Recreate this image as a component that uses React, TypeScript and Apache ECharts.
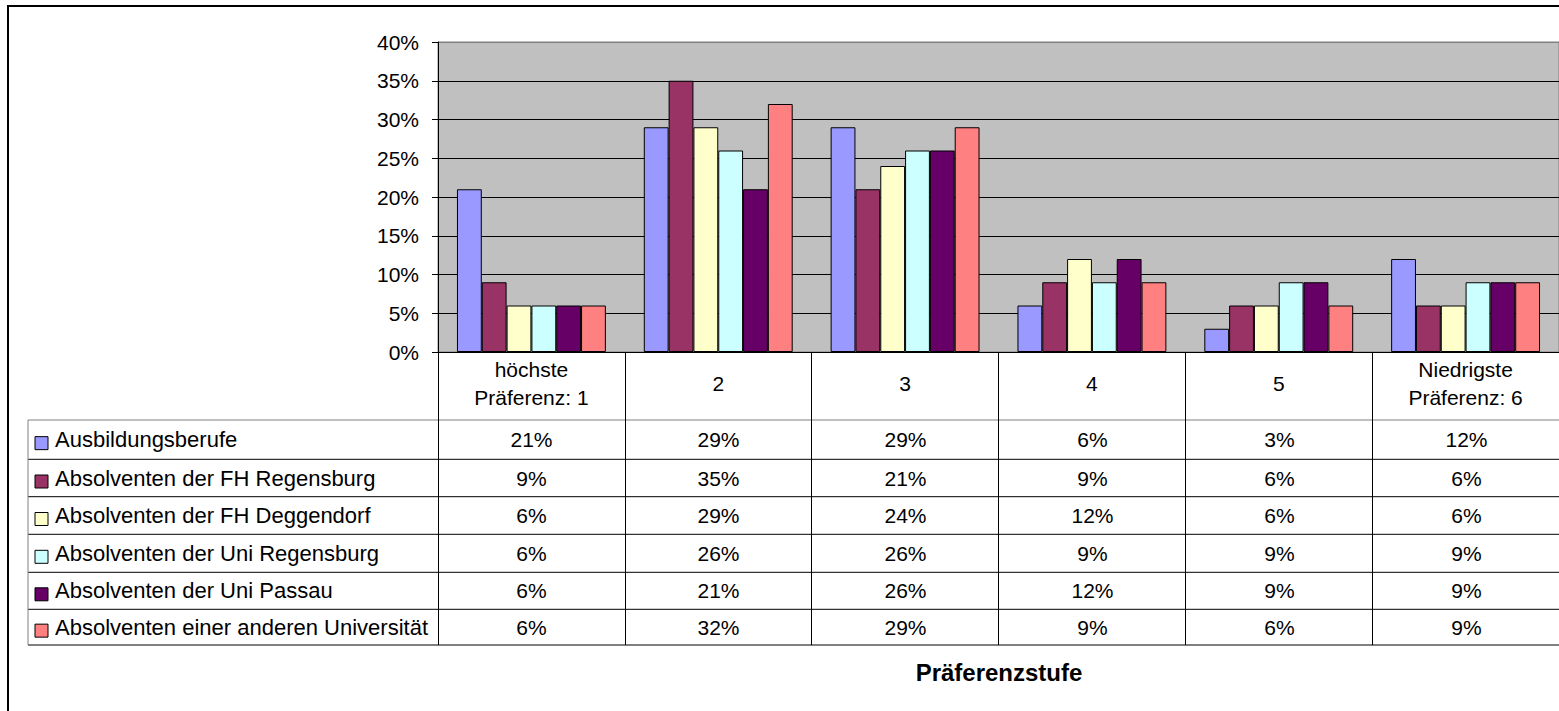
import React, { useEffect, useRef } from "react";
import * as echarts from "echarts";

// ---- data ----
const categories = ["höchste\nPräferenz: 1", "2", "3", "4", "5", "Niedrigste\nPräferenz: 6"];
const seriesNames = [
  "Ausbildungsberufe",
  "Absolventen der FH Regensburg",
  "Absolventen der FH Deggendorf",
  "Absolventen der Uni Regensburg",
  "Absolventen der Uni Passau",
  "Absolventen einer anderen Universität",
];
const seriesColors = ["#9999FF", "#993366", "#FFFFCC", "#CCFFFF", "#660066", "#FF8080"];
const ausbildungsberufe = [21, 29, 29, 6, 3, 12];
const fhRegensburg = [9, 35, 21, 9, 6, 6];
const fhDeggendorf = [6, 29, 24, 12, 6, 6];
const uniRegensburg = [6, 26, 26, 9, 9, 9];
const uniPassau = [6, 21, 26, 12, 9, 9];
const andereUni = [6, 32, 29, 9, 6, 9];
const seriesValues = [ausbildungsberufe, fhRegensburg, fhDeggendorf, uniRegensburg, uniPassau, andereUni];
const yMax = 40;
const yInterval = 5;
const axisTitle = "Präferenzstufe";

// ---- layout ----
const FONT = '"Liberation Sans", Arial, Helvetica, sans-serif';
const GRID_LEFT = 438;
const GRID_TOP = 42;
const GRID_W = 1122;
const GRID_H = 310;
const TABLE_LEFT = 28;
const ROW_LINES = [420, 459.3, 496.7, 534.3, 572.3, 609.3, 645];
const FS = 21;
const NAME_FS = 22;

export default function App() {
  const ref = useRef<HTMLDivElement>(null);

  useEffect(() => {
    if (!ref.current) return;
    const chart = echarts.init(ref.current, undefined, { renderer: "svg" });
    const catW = GRID_W / categories.length;
    const tableRight = GRID_LEFT + GRID_W;

    const graphics: any[] = [];
    // outer chart border
    graphics.push({
      type: "rect",
      shape: { x: 8, y: 6, width: 1700, height: 900 },
      style: { fill: "none", stroke: "#000", lineWidth: 2 },
      silent: true,
    });
    // table horizontal lines
    ROW_LINES.forEach((y, i) => {
      graphics.push({
        type: "line",
        shape: { x1: TABLE_LEFT, y1: y, x2: tableRight, y2: y },
        style: { stroke: i === 0 ? "#808080" : "#000", lineWidth: 1 },
        silent: true,
      });
    });
    graphics.push({
      type: "line",
      shape: { x1: TABLE_LEFT, y1: ROW_LINES[0], x2: TABLE_LEFT, y2: ROW_LINES[ROW_LINES.length - 1] },
      style: { stroke: "#808080", lineWidth: 1 },
      silent: true,
    });
    // legend keys, names and values
    seriesNames.forEach((name, i) => {
      const cy = (ROW_LINES[i] + ROW_LINES[i + 1]) / 2;
      graphics.push({
        type: "rect",
        shape: { x: 35, y: cy - 3, width: 13, height: 13 },
        style: { fill: seriesColors[i], stroke: "#000", lineWidth: 1 },
        silent: true,
      });
      graphics.push({
        type: "text",
        x: 55,
        y: cy,
        style: { text: name, font: `${NAME_FS}px ${FONT}`, fill: "#000", verticalAlign: "middle", align: "left" },
        silent: true,
      });
      seriesValues[i].forEach((v, j) => {
        graphics.push({
          type: "text",
          x: GRID_LEFT + (j + 0.5) * catW,
          y: cy,
          style: { text: `${v}%`, font: `${FS}px ${FONT}`, fill: "#000", verticalAlign: "middle", align: "center" },
          silent: true,
        });
      });
    });
    // axis title
    graphics.push({
      type: "text",
      x: GRID_LEFT + GRID_W / 2,
      y: 672,
      style: { text: axisTitle, font: `bold 24px ${FONT}`, fill: "#000", verticalAlign: "middle", align: "center" },
      silent: true,
    });

    const nLines = yMax / yInterval + 1;
    const splitColors = Array.from({ length: nLines }, (_, k) => (k === nLines - 1 ? "#808080" : "#000"));

    chart.setOption({
      animation: false,
      textStyle: { fontFamily: FONT },
      grid: {
        left: GRID_LEFT,
        top: GRID_TOP,
        width: GRID_W,
        height: GRID_H,
        show: true,
        backgroundColor: "#C0C0C0",
        borderColor: "#808080",
        borderWidth: 1,
      },
      xAxis: {
        type: "category",
        data: categories,
        boundaryGap: true,
        axisLine: { show: true, lineStyle: { color: "#000", width: 1 } },
        axisTick: { show: true, interval: 0, length: ROW_LINES[ROW_LINES.length - 1] - (GRID_TOP + GRID_H), lineStyle: { color: "#000", width: 1 } },
        axisLabel: {
          interval: 0,
          margin: 31,
          verticalAlign: "middle",
          lineHeight: 28,
          fontSize: FS,
          color: "#000",
          fontFamily: FONT,
        },
        splitLine: { show: false },
      },
      yAxis: {
        type: "value",
        min: 0,
        max: yMax,
        interval: yInterval,
        axisLine: { show: true, lineStyle: { color: "#000", width: 1 } },
        axisTick: { show: true, length: 6, lineStyle: { color: "#000", width: 1 } },
        axisLabel: { formatter: "{value}%", margin: 19, fontSize: FS, color: "#000", fontFamily: FONT },
        splitLine: { show: true, lineStyle: { color: splitColors, width: 1 } },
      },
      series: seriesNames.map((name, i) => ({
        type: "bar",
        name,
        data: seriesValues[i],
        barGap: "0%",
        barCategoryGap: "20.3%",
        itemStyle: { color: seriesColors[i], borderColor: "#000", borderWidth: 1 },
      })),
      graphic: graphics,
    });

    return () => chart.dispose();
  }, []);

  return (
    <div
      ref={ref}
      style={{ position: "absolute", left: 0, top: 0, width: 1559, height: 711, background: "#fff" }}
    />
  );
}
